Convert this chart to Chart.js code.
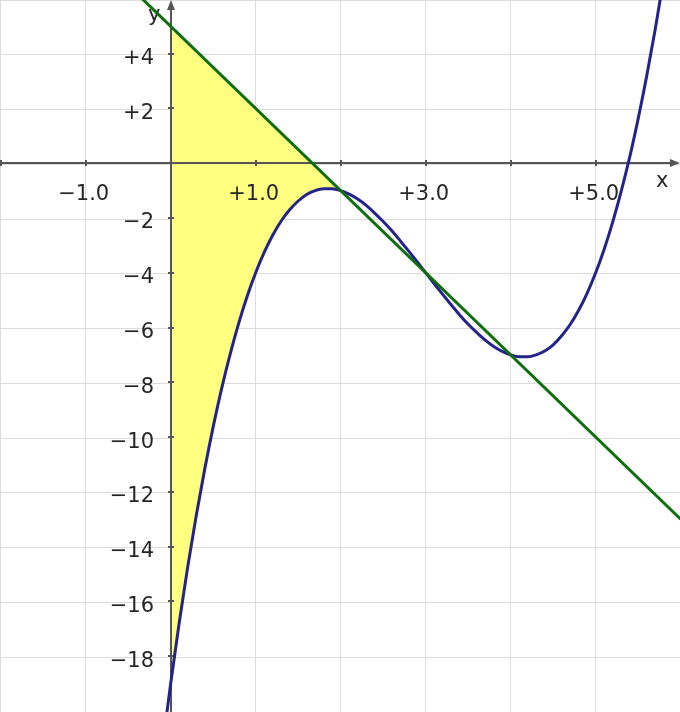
<!DOCTYPE html>
<html>
<head>
<meta charset="utf-8">
<script src="https://cdn.jsdelivr.net/npm/chart.js@4/dist/chart.umd.min.js"></script>
<style>
  html, body { margin: 0; padding: 0; background: #ffffff; }
  #wrap { width: 680px; height: 712px; }
</style>
</head>
<body>
<div id="wrap"><canvas id="c" width="680" height="712"></canvas></div>
<script>
// ---- data ----
const curveX = [-0.1, 0, 0.1, 0.2, 0.3, 0.4, 0.5, 0.6, 0.7, 0.8, 0.9, 1.0, 1.1, 1.2, 1.3, 1.4, 1.5, 1.6, 1.7, 1.8, 1.9, 2.0,
  2.1, 2.2, 2.3, 2.4, 2.5, 2.6, 2.7, 2.8, 2.9, 3.0, 3.1, 3.2, 3.3, 3.4, 3.5, 3.6, 3.7, 3.8, 3.9, 4.0,
  4.1, 4.2, 4.3, 4.4, 4.5, 4.6, 4.7, 4.8, 4.9, 5.0, 5.1, 5.2, 5.3, 5.4, 5.5, 5.6, 5.7, 5.8];
const curveY = [-21.39, -19.0, -16.79, -14.75, -12.88, -11.18, -9.63, -8.22, -6.97, -5.85, -4.86, -4.0,
  -3.26, -2.63, -2.11, -1.70, -1.38, -1.14, -1.00, -0.93, -0.93, -1.0,
  -1.13, -1.31, -1.54, -1.82, -2.13, -2.46, -2.83, -3.21, -3.60, -4.0,
  -4.40, -4.79, -5.17, -5.54, -5.88, -6.18, -6.46, -6.69, -6.87, -7.0,
  -7.07, -7.07, -7.00, -6.86, -6.63, -6.30, -5.89, -5.37, -4.74, -4.0,
  -3.14, -2.15, -1.03, 0.22, 1.63, 3.18, 4.88, 6.75];
const lineX = [-1, 6];
const lineY = [8, -13];
const shadeFrom = 0;   // shaded region: between the line and the curve, x from 0 to 2
const shadeTo = 2;
const shadeTopX = [0, 2];
const shadeTopY = [5, -1];

const xTickValues = [-2, -1, 1, 2, 3, 4, 5];
const xLabelValues = [-1, 1, 3, 5];
const xLabels = ['\u22121.0', '+1.0', '+3.0', '+5.0'];
const yTickValues = [4, 2, -2, -4, -6, -8, -10, -12, -14, -16, -18];
const yLabels = ['+4', '+2', '\u22122', '\u22124', '\u22126', '\u22128', '\u221210', '\u221212', '\u221214', '\u221216', '\u221218'];
const xAxisName = 'x';
const yAxisName = 'y';

// ---- build datasets ----
const curvePts = curveX.map((x, i) => ({ x: x, y: curveY[i] }));
const linePts = lineX.map((x, i) => ({ x: x, y: lineY[i] }));
const shadePts = shadeTopX.map((x, i) => ({ x: x, y: shadeTopY[i] }))
  .concat(curvePts.filter(p => p.x >= shadeFrom && p.x <= shadeTo).reverse());

const FONT = '21px "DejaVu Sans", Verdana, sans-serif';
const TEXT = '#262626';
const AXIS = '#555555';

const axesPlugin = {
  id: 'geoAxes',
  beforeDatasetsDraw(chart) {
    const { ctx, chartArea: a } = chart;
    const sx = chart.scales.x, sy = chart.scales.y;
    const x0 = Math.round(sx.getPixelForValue(0));
    const y0 = Math.round(sy.getPixelForValue(0));
    ctx.save();
    ctx.strokeStyle = AXIS;
    ctx.fillStyle = AXIS;
    ctx.lineWidth = 2;
    // x axis
    ctx.beginPath();
    ctx.moveTo(a.left, y0);
    ctx.lineTo(a.right - 6, y0);
    ctx.stroke();
    ctx.beginPath();
    ctx.moveTo(a.right, y0);
    ctx.lineTo(a.right - 10, y0 - 4);
    ctx.lineTo(a.right - 10, y0 + 4);
    ctx.closePath();
    ctx.fill();
    // y axis
    ctx.beginPath();
    ctx.moveTo(x0, a.bottom);
    ctx.lineTo(x0, a.top + 6);
    ctx.stroke();
    ctx.beginPath();
    ctx.moveTo(x0, a.top);
    ctx.lineTo(x0 - 4, a.top + 10);
    ctx.lineTo(x0 + 4, a.top + 10);
    ctx.closePath();
    ctx.fill();
    // tick marks
    ctx.lineWidth = 2;
    xTickValues.forEach(v => {
      const px = Math.round(sx.getPixelForValue(v));
      ctx.beginPath();
      ctx.moveTo(px, y0 - 3);
      ctx.lineTo(px, y0 + 3);
      ctx.stroke();
    });
    yTickValues.forEach(v => {
      const py = Math.round(sy.getPixelForValue(v));
      ctx.beginPath();
      ctx.moveTo(x0 - 3, py);
      ctx.lineTo(x0 + 3, py);
      ctx.stroke();
    });
    // labels
    ctx.font = FONT;
    ctx.fillStyle = TEXT;
    ctx.textBaseline = 'alphabetic';
    ctx.textAlign = 'center';
    xLabelValues.forEach((v, i) => {
      ctx.fillText(xLabels[i], sx.getPixelForValue(v) - 2, y0 + 37);
    });
    ctx.textAlign = 'right';
    yTickValues.forEach((v, i) => {
      ctx.fillText(yLabels[i], x0 - 17, sy.getPixelForValue(v) + 10.5);
    });
    ctx.textAlign = 'left';
    ctx.fillText(yAxisName, x0 - 23, a.top + 21);
    ctx.fillText(xAxisName, a.right - 24, y0 + 24);
    ctx.restore();
  }
};

new Chart(document.getElementById('c'), {
  type: 'scatter',
  data: {
    datasets: [
      {
        label: 'tangent',
        data: linePts,
        showLine: true,
        borderColor: '#0f6e0f',
        borderWidth: 3,
        pointRadius: 0,
        fill: false
      },
      {
        label: 'f',
        data: curvePts,
        showLine: true,
        borderColor: '#23238a',
        borderWidth: 3,
        pointRadius: 0,
        cubicInterpolationMode: 'monotone',
        fill: false
      },
      {
        label: 'area',
        data: shadePts,
        showLine: true,
        borderColor: 'rgba(0,0,0,0)',
        borderWidth: 1,
        backgroundColor: '#ffff80',
        pointRadius: 0,
        fill: 'shape'
      }
    ]
  },
  options: {
    responsive: false,
    animation: false,
    devicePixelRatio: 1,
    layout: { padding: 0 },
    plugins: {
      legend: { display: false },
      tooltip: { enabled: false },
      filler: { drawTime: 'beforeDatasetsDraw', propagate: false }
    },
    scales: {
      x: {
        type: 'linear',
        min: -2.008,
        max: 5.992,
        ticks: { display: false, stepSize: 1, includeBounds: false },
        grid: { color: '#dcdcdc', lineWidth: 1, drawTicks: false },
        border: { display: false }
      },
      y: {
        type: 'linear',
        min: -20.04,
        max: 5.96,
        ticks: { display: false, stepSize: 2, includeBounds: false },
        grid: { color: '#dcdcdc', lineWidth: 1, drawTicks: false },
        border: { display: false }
      }
    }
  },
  plugins: [axesPlugin]
});
</script>
</body>
</html>
